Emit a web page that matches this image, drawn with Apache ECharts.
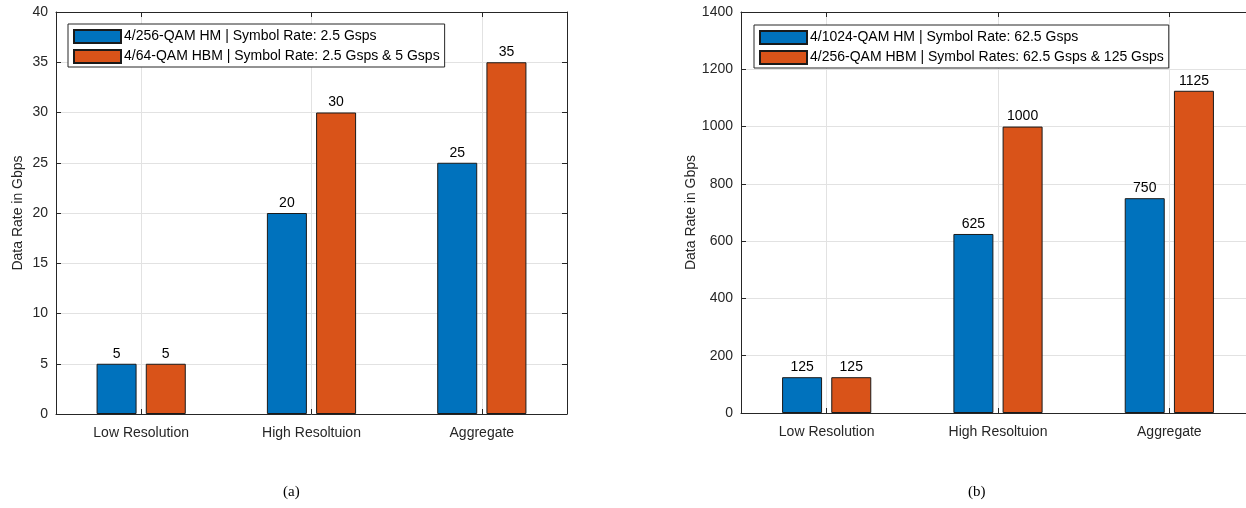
<!DOCTYPE html>
<html>
<head>
<meta charset="utf-8">
<script src="https://cdn.jsdelivr.net/npm/echarts@6/dist/echarts.min.js"></script>
<style>
html,body{margin:0;padding:0;background:#fff;overflow:hidden;}
#chart{width:1246px;height:508px;}
</style>
</head>
<body>
<div id="chart"></div>
<script>
// ---- data ----
const categories = ['Low Resolution', 'High Resoltuion', 'Aggregate'];
const seriesNamesA = ['4/256-QAM HM | Symbol Rate: 2.5 Gsps', '4/64-QAM HBM | Symbol Rate: 2.5 Gsps & 5 Gsps'];
const hmA = [5, 20, 25];
const hbmA = [5, 30, 35];
const seriesNamesB = ['4/1024-QAM HM | Symbol Rate: 62.5 Gsps', '4/256-QAM HBM | Symbol Rates: 62.5 Gsps & 125 Gsps'];
const hmB = [125, 625, 750];
const hbmB = [125, 1000, 1125];
const yAxisA = {min: 0, max: 40, interval: 5};
const yAxisB = {min: 0, max: 1400, interval: 200};
const yTitle = 'Data Rate in Gbps';
const captions = ['(a)', '(b)'];

// ---- style ----
const FONT = 'Liberation Sans, Arial, Helvetica, sans-serif';
const AXIS = '#262626';
const GRIDC = '#e2e2e2';
const BLUE = '#0072BD';
const ORANGE = '#D95319';

const chart = echarts.init(document.getElementById('chart'), null, {renderer: 'canvas'});

function xAxes(gridIndex) {
  return [
    {
      type: 'category', gridIndex, data: categories, position: 'bottom',
      axisLine: {show: true, onZero: false, lineStyle: {color: AXIS, width: 1}},
      axisTick: {show: true, inside: true, alignWithLabel: true, length: 5, lineStyle: {color: AXIS}},
      axisLabel: {color: AXIS, fontFamily: FONT, fontSize: 14, margin: 12},
      splitLine: {show: true, alignWithLabel: true, lineStyle: {color: GRIDC, width: 1}}
    },
    {
      type: 'category', gridIndex, data: categories, position: 'top',
      axisLine: {show: true, onZero: false, lineStyle: {color: AXIS, width: 1}},
      axisTick: {show: true, inside: true, alignWithLabel: true, length: 5, lineStyle: {color: AXIS}},
      axisLabel: {show: false},
      splitLine: {show: false}
    }
  ];
}
function yAxisLeft(gridIndex, rng, withName) {
  return {
    type: 'value', gridIndex, position: 'left', min: rng.min, max: rng.max, interval: rng.interval,
    name: withName, nameLocation: 'middle', nameGap: 31,
    nameTextStyle: {color: AXIS, fontFamily: FONT, fontSize: 14},
    axisLine: {show: true, lineStyle: {color: AXIS, width: 1}},
    axisTick: {show: true, inside: true, length: 5, lineStyle: {color: AXIS}},
    axisLabel: {color: AXIS, fontFamily: FONT, fontSize: 14, margin: 8, formatter: v => String(v)},
    splitLine: {show: true, lineStyle: {color: GRIDC, width: 1}}
  };
}
function yAxisRight(gridIndex, rng) {
  return {
    type: 'value', gridIndex, position: 'right', min: rng.min, max: rng.max, interval: rng.interval,
    axisLine: {show: true, lineStyle: {color: AXIS, width: 1}},
    axisTick: {show: true, inside: true, length: 5, lineStyle: {color: AXIS}},
    axisLabel: {show: false},
    splitLine: {show: false}
  };
}
function barSeries(name, data, color, xi, yi) {
  return {
    type: 'bar', name, data, xAxisIndex: xi, yAxisIndex: yi,
    barWidth: 40, barGap: '23%',
    itemStyle: {color, borderColor: '#1a1a1a', borderWidth: 1},
    label: {show: true, position: 'top', distance: 3, color: '#000', fontFamily: FONT, fontSize: 14},
    emphasis: {disabled: true}
  };
}
function legend(names, left, top) {
  return {
    data: names, orient: 'vertical', left, top,
    itemWidth: 47, itemHeight: 13, itemGap: 5,
    padding: [5, 5, 3, 5],
    backgroundColor: '#fff', borderColor: AXIS, borderWidth: 1, borderRadius: 0,
    icon: 'rect',
    textStyle: {color: '#000', fontFamily: FONT, fontSize: 14, padding: [0, 0, 0, -2]},
    selectedMode: false
  };
}

const option = {
  animation: false,
  backgroundColor: '#fff',
  grid: [
    {left: 56, width: 511, top: 12, height: 402, containLabel: false, outerBoundsMode: 'none'},
    {left: 741, width: 514, top: 12, height: 401, containLabel: false, outerBoundsMode: 'none'}
  ],
  xAxis: [...xAxes(0), ...xAxes(1)],
  yAxis: [yAxisLeft(0, yAxisA, yTitle), yAxisRight(0, yAxisA), yAxisLeft(1, yAxisB, yTitle)],
  legend: [legend(seriesNamesA, 68, 24), legend(seriesNamesB, 754, 25)],
  series: [
    barSeries(seriesNamesA[0], hmA, BLUE, 0, 0),
    barSeries(seriesNamesA[1], hbmA, ORANGE, 0, 0),
    barSeries(seriesNamesB[0], hmB, BLUE, 2, 2),
    barSeries(seriesNamesB[1], hbmB, ORANGE, 2, 2)
  ],
  graphic: [
    {type: 'text', left: 283, top: 485, style: {text: captions[0], font: '15px "Liberation Serif", "Times New Roman", serif', fill: '#000'}},
    {type: 'text', left: 968, top: 485, style: {text: captions[1], font: '15px "Liberation Serif", "Times New Roman", serif', fill: '#000'}}
  ]
};
chart.setOption(option);
</script>
</body>
</html>
